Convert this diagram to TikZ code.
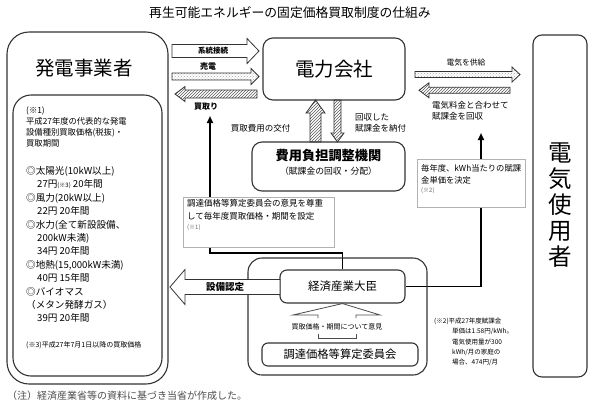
\documentclass[tikz,border=0pt]{standalone}
\usepackage{fontspec}
\setmainfont{Noto Sans CJK JP}
\usetikzlibrary{arrows.meta,patterns,backgrounds}

\newcommand{\fsz}[2]{\fontsize{#1}{#2}\selectfont}
% block arrows: [style]{tail}{tip}{centre}{body half}{head half}{head length}
\newcommand{\blockh}[7][]{%
  \draw[#1] (#2,{#4-(#5)}) -- ({#3-(#7)},{#4-(#5)}) -- ({#3-(#7)},{#4-(#6)}) -- (#3,#4)
    -- ({#3-(#7)},{#4+(#6)}) -- ({#3-(#7)},{#4+(#5)}) -- (#2,{#4+(#5)}) -- cycle;}
\newcommand{\blockv}[7][]{%
  \draw[#1] ({#2-(#5)},#3) -- ({#2-(#5)},{#4-(#7)}) -- ({#2-(#6)},{#4-(#7)}) -- (#2,#4)
    -- ({#2+(#6)},{#4-(#7)}) -- ({#2+(#5)},{#4-(#7)}) -- ({#2+(#5)},#3) -- cycle;}

\tikzset{
  roundbox/.style={draw=black!80, line width=1.1, fill=white},
  notebox/.style={draw=black!30, line width=0.8, fill=white},
  plainarr/.style={draw=black!80, line width=0.8, fill=white},
  hatcharr/.style={draw=black!80, line width=0.8, pattern=north east lines, pattern color=black!65},
  dotarr/.style={draw=black!80, line width=0.8, pattern=crosshatch dots, pattern color=black!35},
  wire/.style={line width=1.8, black},
  ptr/.style={-{Triangle[length=7pt,width=6pt]}},
  callout/.style={draw=black!70, line width=0.8},
  txt/.style={anchor=north west, align=left, inner sep=0}
}

\begin{document}
\begin{tikzpicture}[x=1pt, y=-1pt]
  \useasboundingbox (0,0) rectangle (595,408);
  % title
  \node[font=\fsz{12.8}{14}] (title) at (290,13) {再生可能エネルギーの固定価格買取制度の仕組み};

  % generators
  \node[roundbox, rounded corners=22, minimum width=161, minimum height=352] (gen) at (87.5,208) {};
  \node[roundbox, rounded corners=18, minimum width=149, minimum height=281] (genin) at (87.5,235.5) {};
  \node[font=\fsz{19.5}{20}] (genlbl) at (84,68) {発電事業者};
  \node[txt, font=\fsz{8.3}{11}] (note1) at (26,106.5)
    {(※1)\\平成27年度の代表的な発電\\設備種別買取価格(税抜)・\\買取期間};
  \node[txt, font=\fsz{9.6}{13.4}] (prices) at (26,166.2)
    {◎太陽光(10kW以上)\\
     \hspace*{11pt}27円{\fsz{6}{6}(※3)} 20年間\\
     ◎風力(20kW以上)\\
     \hspace*{11pt}22円 20年間\\
     ◎水力(全て新設設備、\\
     \hspace*{11pt}200kW未満)\\
     \hspace*{11pt}34円 20年間\\
     ◎地熱(15,000kW未満)\\
     \hspace*{11pt}40円 15年間\\
     ◎バイオマス\\
     （メタン発酵ガス）\\
     \hspace*{11pt}39円 20年間};
  \node[anchor=west, inner sep=0, font=\fsz{7}{8}] (note3) at (26,345) {(※3)平成27年7月1日以降の買取価格};

  % power company
  \node[roundbox, rounded corners=10, minimum width=142, minimum height=62, font=\fsz{19.5}{20}] (elec) at (334,69) {電力会社};
  \blockh[plainarr]{172}{259}{51}{6.5}{12.5}{12}
  \blockh[dotarr]{172}{259}{76.5}{3.5}{8}{8}
  \blockh[hatcharr]{257}{175}{94}{4}{7.5}{-10}
  \node[font=\bfseries\fsz{7.5}{8}] (gridlbl) at (213,51) {系統接続};
  \node[font=\bfseries\fsz{8}{9}] (selllbl) at (208,66) {売電};
  \node[font=\bfseries\fsz{8}{9}] (buylbl) at (206,107) {買取り};

  % cost adjustment body
  \node[roundbox, rounded corners=10, minimum width=153, minimum height=49] (fund) at (328.5,166.5) {};
  \node[font=\bfseries\fsz{13.2}{14}] (fundlbl) at (328.5,156) {費用負担調整機関};
  \node[font=\fsz{8.8}{10}] (fundsub) at (328.5,171) {（賦課金の回収・分配）};
  \blockv[hatcharr]{315.5}{142}{100}{5.5}{9.5}{-13}
  \blockv[hatcharr]{337.5}{100}{142}{3.5}{6.5}{9}
  \node[anchor=east, font=\fsz{8.5}{10}] (paylbl) at (294,128) {買取費用の交付};
  \node[txt, font=\fsz{8.5}{10.5}] (levylbl) at (355,113.5) {回収した\\賦課金を納付};

  % consumers
  \node[roundbox, rounded corners=9, minimum width=54, minimum height=342] (user) at (560,206) {};
  \node[align=center, inner sep=0, font=\fsz{23.5}{26.2}] (userlbl) at (560,205) {電\\気\\使\\用\\者};
  \blockh[dotarr]{415}{520}{74.5}{3}{7.5}{8}
  \blockh[hatcharr]{510}{419}{90.3}{3}{7.5}{-10}
  \node[font=\fsz{7.8}{9}] (supplbl) at (466,63) {電気を供給};
  \node[txt, font=\fsz{8.5}{11}] (chglbl) at (432,101.5) {電気料金と合わせて\\賦課金を回収};

  % notes on the wires
  \node[notebox, minimum width=151, minimum height=50] (setbox) at (258.5,222) {};
  \node[txt, font=\fsz{8.5}{12.5}] (settxt) at (187,199.5) {調達価格等算定委員会の意見を尊重\\して毎年度買取価格・期間を設定};
  \node[anchor=west, inner sep=0, font=\fsz{6}{7}, text=black!60] (setref) at (187,227.5) {(※1)};
  \node[notebox, minimum width=108, minimum height=48] (ratebox) at (471,183) {};
  \node[txt, font=\fsz{8.3}{12}] (ratetxt) at (421,164) {毎年度、kWh当たりの賦課\\金単価を決定};
  \node[anchor=west, inner sep=0, font=\fsz{6}{7}, text=black!60] (rateref) at (421,191) {(※2)};

  % ministry
  \node[roundbox, fill=none, rounded corners=14, minimum width=179, minimum height=117] (mgroup) at (337.5,316.5) {};
  \node[roundbox, rounded corners=7, minimum width=125, minimum height=33, font=\fsz{11.5}{12}] (minister) at (342.5,286.5) {経済産業大臣};
  \node[roundbox, rounded corners=6, minimum width=156, minimum height=23, font=\fsz{11.3}{12}] (council) at (340,354.5) {調達価格等算定委員会};
  \blockh[plainarr]{280}{170}{287}{7.5}{17.5}{-15}
  \node[font=\bfseries\fsz{9.5}{10}] (certlbl) at (225,287) {設備認定};
  \draw[callout] (318,318) -- (318,315) -- (293,315) -- (minister.south) -- (380,315) -- (356,315) -- (356,318);
  \draw[callout] (318,334) -- (318,338) -- (356,338) -- (356,334);
  \node[font=\fsz{7}{8}] (oplbl) at (337,327) {買取価格・期間について意見};

  % footnotes
  \node[txt, font=\fsz{6.5}{10.3}] (note2) at (434,317.8)
    {(※2)平成27年度賦課金\\
     \hspace*{18pt}単価は1.58円/kWh。\\
     \hspace*{18pt}電気使用量が300\\
     \hspace*{18pt}kWh/月の家庭の\\
     \hspace*{18pt}場合、474円/月};
  \node[anchor=west, inner sep=0, font=\fsz{10}{11}, text=black!70] (src) at (7,396) {（注）経済産業省等の資料に基づき当省が作成した。};

  % wires
  \coordinate (buytip) at (210,116);
  \coordinate (ratetip) at (481,133);
  \begin{scope}[on background layer]
    \draw[wire, ptr] (minister.north) |- (210,253) -- (buytip);
    \draw[wire, ptr] (minister.east) -| (ratetip);
  \end{scope}
\end{tikzpicture}
\end{document}
